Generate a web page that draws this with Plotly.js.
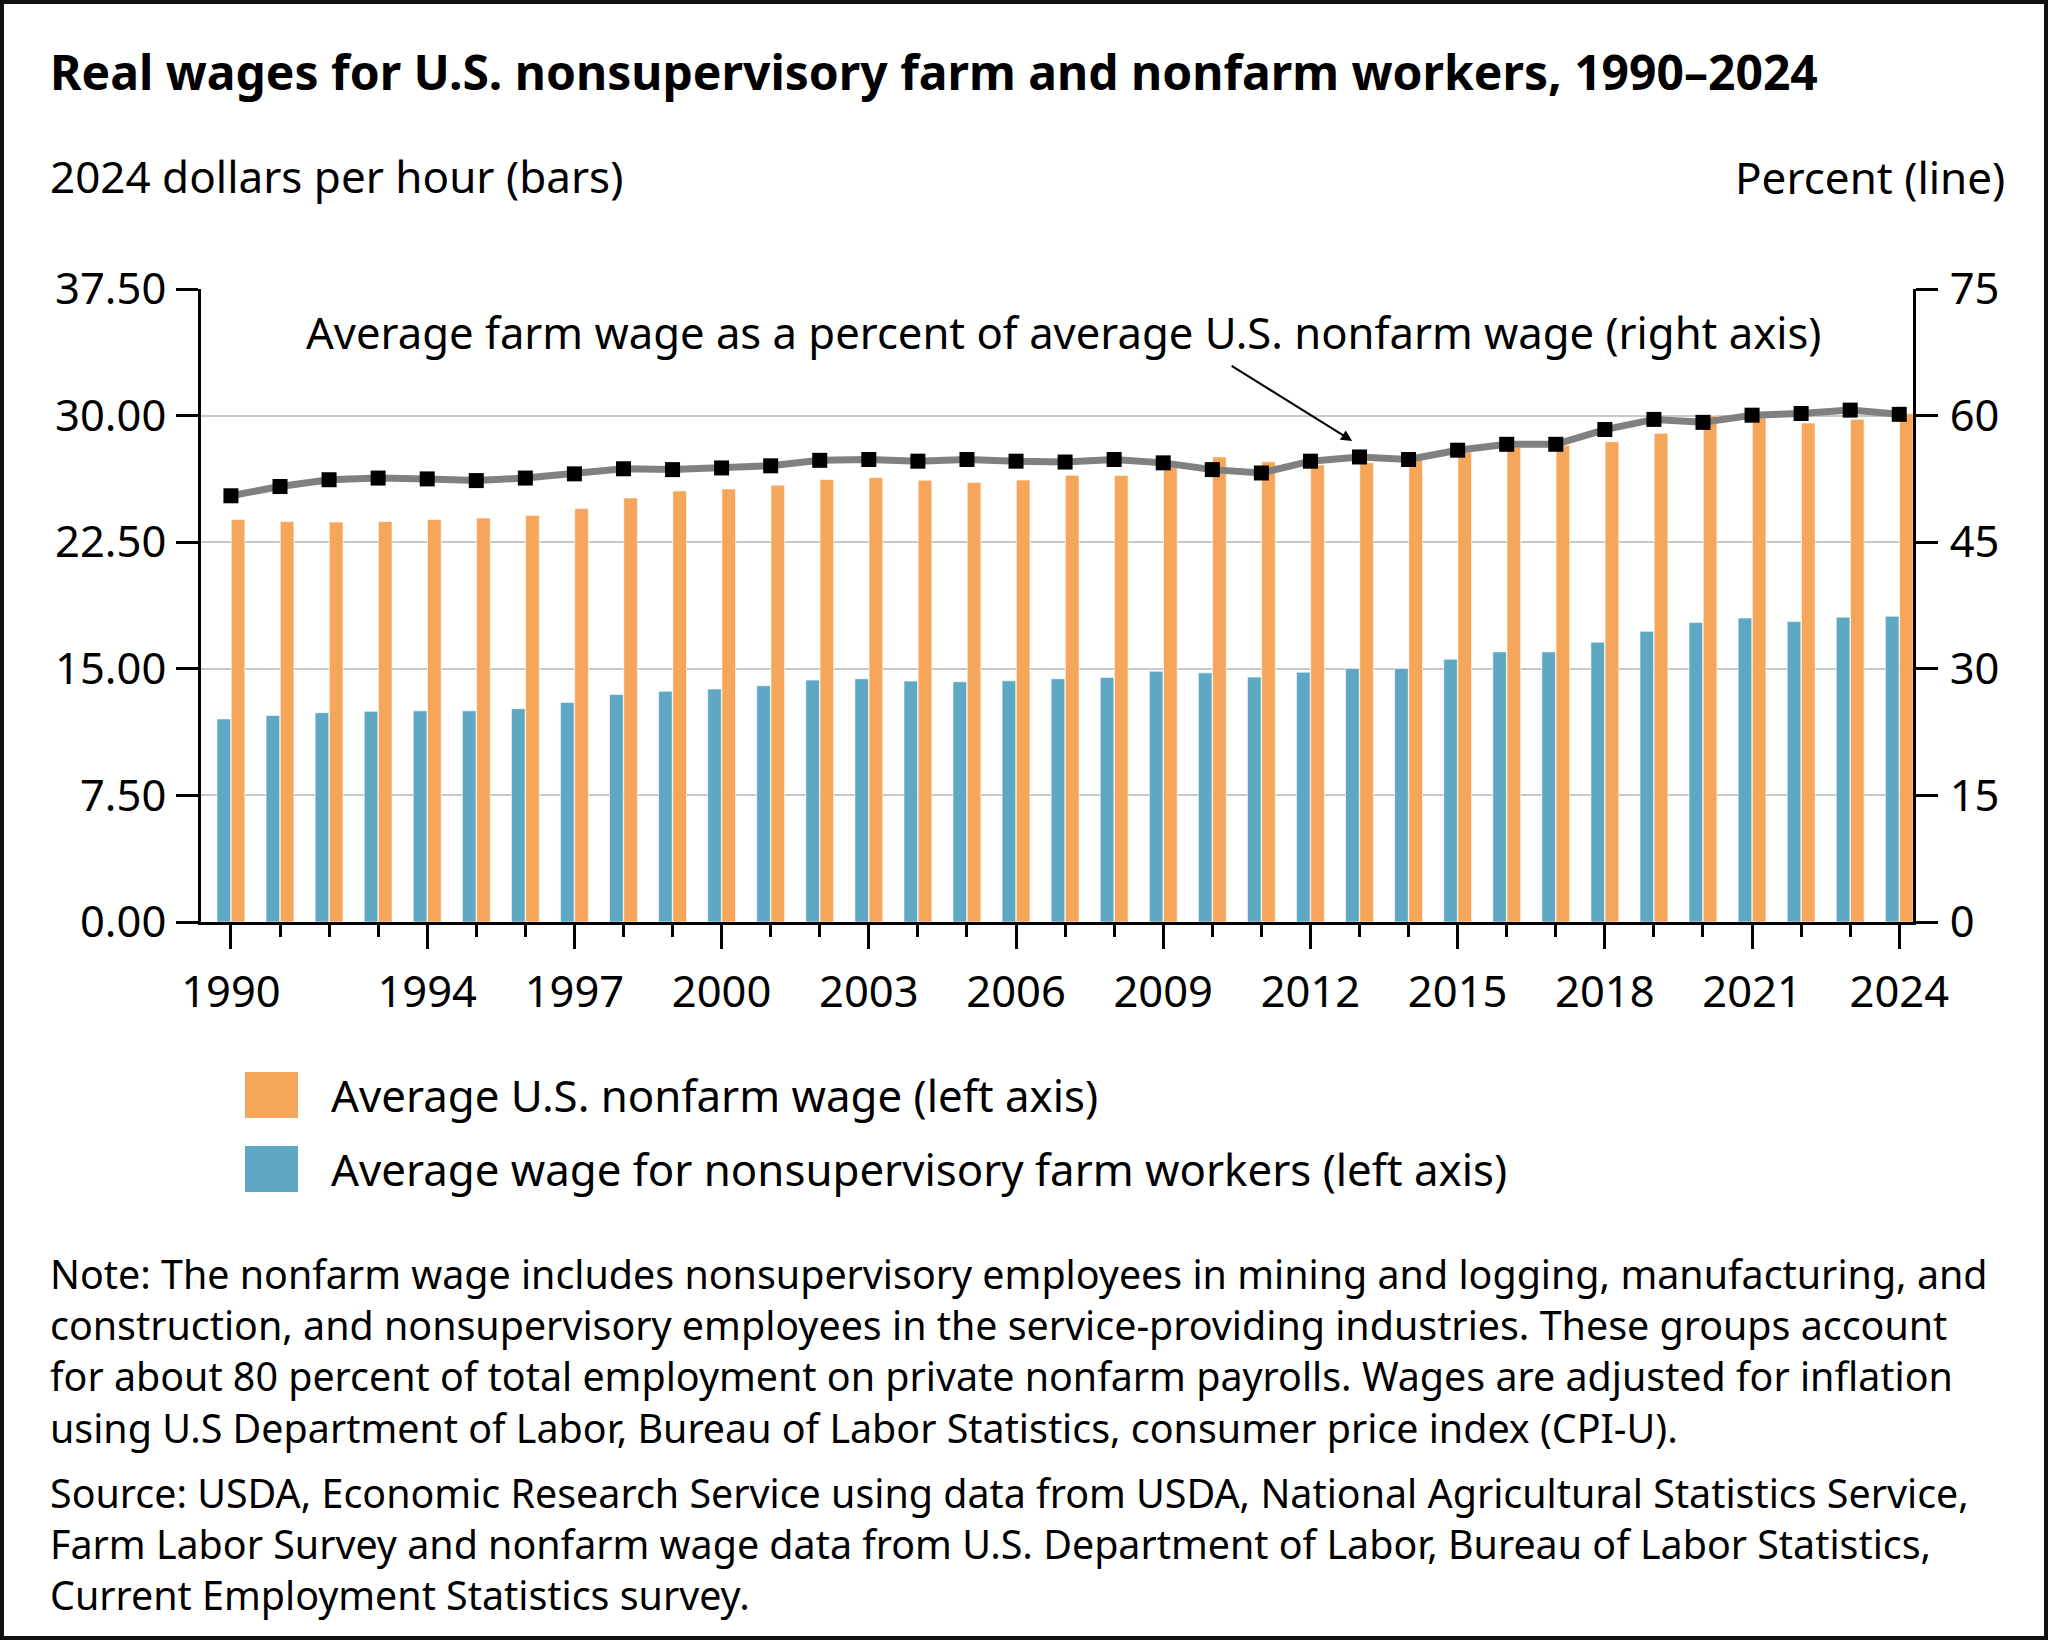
<!DOCTYPE html>
<html>
<head>
<meta charset="utf-8">
<script src="https://cdn.plot.ly/plotly-3.0.1.min.js"></script>
<style>
html,body{margin:0;padding:0;background:#fff;}
#chart{width:2048px;height:1640px;box-sizing:border-box;border:4px solid #111;}
</style>
</head>
<body>
<div id="chart"></div>
<script>
const years = [1990,1991,1992,1993,1994,1995,1996,1997,1998,1999,2000,2001,2002,2003,2004,2005,2006,2007,2008,2009,2010,2011,2012,2013,2014,2015,2016,2017,2018,2019,2020,2021,2022,2023,2024];
const farmWage = [12.03,12.24,12.40,12.48,12.51,12.51,12.64,13.01,13.48,13.67,13.80,14.00,14.33,14.41,14.27,14.23,14.29,14.41,14.49,14.86,14.76,14.51,14.80,15.02,15.02,15.57,16.00,16.00,16.58,17.22,17.74,18.01,17.80,18.06,18.11];
const nonfarmWage = [23.85,23.72,23.69,23.72,23.85,23.93,24.09,24.49,25.12,25.54,25.65,25.88,26.22,26.33,26.17,26.03,26.18,26.47,26.45,27.15,27.55,27.26,27.08,27.21,27.40,27.84,28.11,28.24,28.45,28.95,30.00,30.00,29.56,29.78,30.12];
const farmPct = [50.5,51.6,52.4,52.6,52.5,52.3,52.6,53.1,53.7,53.6,53.8,54.05,54.7,54.8,54.6,54.8,54.6,54.5,54.8,54.4,53.6,53.2,54.6,55.1,54.8,55.9,56.6,56.6,58.35,59.55,59.2,60.05,60.25,60.65,60.15];
const xTickVals = [1990,1994,1997,2000,2003,2006,2009,2012,2015,2018,2021,2024];
const xTickText = ['1990','1994','1997','2000','2003','2006','2009','2012','2015','2018','2021','2024'];
const leftTicks = [0,7.5,15,22.5,30,37.5];
const leftTickText = ['0.00','7.50','15.00','22.50','30.00','37.50'];
const rightTicks = [0,15,30,45,60,75];

const titleText = 'Real wages for U.S. nonsupervisory farm and nonfarm workers, 1990\u20132024';
const leftUnit = '2024 dollars per hour (bars)';
const rightUnit = 'Percent (line)';
const lineLabel = 'Average farm wage as a percent of average U.S. nonfarm wage (right axis)';
const nonfarmName = 'Average U.S. nonfarm wage (left axis)';
const farmName = 'Average wage for nonsupervisory farm workers (left axis)';
const noteLines = [
  'Note: The nonfarm wage includes nonsupervisory employees in mining and logging, manufacturing, and',
  'construction, and nonsupervisory employees in the service-providing industries. These groups account',
  'for about 80 percent of total employment on private nonfarm payrolls. Wages are adjusted for inflation',
  'using U.S Department of Labor, Bureau of Labor Statistics, consumer price index (CPI-U).'
];
const sourceLines = [
  'Source: USDA, Economic Research Service using data from USDA, National Agricultural Statistics Service,',
  'Farm Labor Survey and nonfarm wage data from U.S. Department of Labor, Bureau of Labor Statistics,',
  'Current Employment Statistics survey.'
];

const ORANGE = '#F5A65B';
const BLUE = '#5FA8C3';
const FONT = '"Noto Sans", Lato, sans-serif';

// plot-area pixel frame (page coordinates)
const L = 201, R = 1913, T = 289, B = 922;
const px = x => (x - L) / (R - L);
const py = y => (B - y) / (B - T);

const traces = [
  {type:'bar', x:years, y:farmWage, name:farmName, marker:{color:BLUE, line:{color:'rgba(255,255,255,0.6)', width:1}}, yaxis:'y', xaxis:'x', hoverinfo:'x+y'},
  {type:'bar', x:years, y:nonfarmWage, name:nonfarmName, marker:{color:ORANGE, line:{color:'rgba(255,255,255,0.6)', width:1}}, yaxis:'y', xaxis:'x', hoverinfo:'x+y'},
  {type:'scatter', mode:'lines+markers', x:years, y:farmPct, yaxis:'y2', xaxis:'x', name:'Percent',
   line:{color:'#808080', width:7}, marker:{symbol:'square', size:15, color:'#000'}, cliponaxis:false}
];

const ann = [];
function txt(text, x, y, size, opts){
  ann.push(Object.assign({text:text, xref:'paper', yref:'paper', x:px(x), y:py(y), showarrow:false,
    xanchor:'left', yanchor:'middle', align:'left', font:{family:FONT, size:size, color:'#000'}}, opts||{}));
}
txt('<b>'+titleText+'</b>', 48, 72, 48);
txt(leftUnit, 48, 176, 44);
txt(rightUnit, 2007, 177, 44, {xanchor:'right', align:'right'});
txt(lineLabel, 304, 332, 43.6);
txt(nonfarmName, 329, 1095, 43.8);
txt(farmName, 329, 1169, 43.8);
txt(noteLines.join('<br>'), 48, 1351, 39.4);
txt(sourceLines.join('<br>'), 48, 1544, 39.4);
// arrow pointing to the line
ann.push({text:'', xref:'x', yref:'y2', x:2012.85, y:57.0, showarrow:true, ax:-122, ay:-76,
  arrowhead:2, arrowsize:1.1, arrowwidth:2, arrowcolor:'#000'});

const shapes = [
  {type:'rect', xref:'paper', yref:'paper', x0:px(245), x1:px(298), y0:py(1118), y1:py(1072), fillcolor:ORANGE, line:{width:0}},
  {type:'rect', xref:'paper', yref:'paper', x0:px(245), x1:px(298), y0:py(1192), y1:py(1146), fillcolor:BLUE, line:{width:0}}
];

const layout = {
  width:2040, height:1632,
  margin:{l:L-4, r:2048-R-4, t:T-4, b:1640-B-4, pad:0},
  paper_bgcolor:'#fff', plot_bgcolor:'#fff',
  showlegend:false,
  barmode:'group', bargap:0.42, bargroupgap:0.04,
  font:{family:FONT, color:'#000'},
  xaxis:{range:[1989.39,2024.28], tickmode:'array', tickvals:xTickVals, ticktext:xTickText,
    ticks:'outside', ticklen:24, tickwidth:3, tickcolor:'#000',
    minor:{tickmode:'array', tickvals:years, ticks:'outside', ticklen:12, tickwidth:3, tickcolor:'#000', showgrid:false},
    showline:true, linecolor:'#000', linewidth:3, showgrid:false, zeroline:false,
    tickfont:{family:FONT, size:43.5, color:'#000'}, ticklabelstandoff:6, fixedrange:true},
  yaxis:{range:[0,37.5], tickmode:'array', tickvals:leftTicks, ticktext:leftTickText,
    ticks:'outside', ticklen:22, tickwidth:3, tickcolor:'#000',
    showline:true, linecolor:'#000', linewidth:3, showgrid:true, gridcolor:'#c8c8c8', gridwidth:2, zeroline:false,
    tickfont:{family:FONT, size:43.5, color:'#000'}, ticklabelstandoff:1},
  yaxis2:{range:[0,75], tickmode:'array', tickvals:rightTicks, overlaying:'y', side:'right',
    ticks:'outside', ticklen:22, tickwidth:3, tickcolor:'#000',
    showline:true, linecolor:'#000', linewidth:3, showgrid:false, zeroline:false,
    tickfont:{family:FONT, size:43.5, color:'#000'}, ticklabelstandoff:3},
  annotations:ann,
  shapes:shapes
};

Plotly.newPlot('chart', traces, layout, {displayModeBar:false, staticPlot:true});
</script>
</body>
</html>
